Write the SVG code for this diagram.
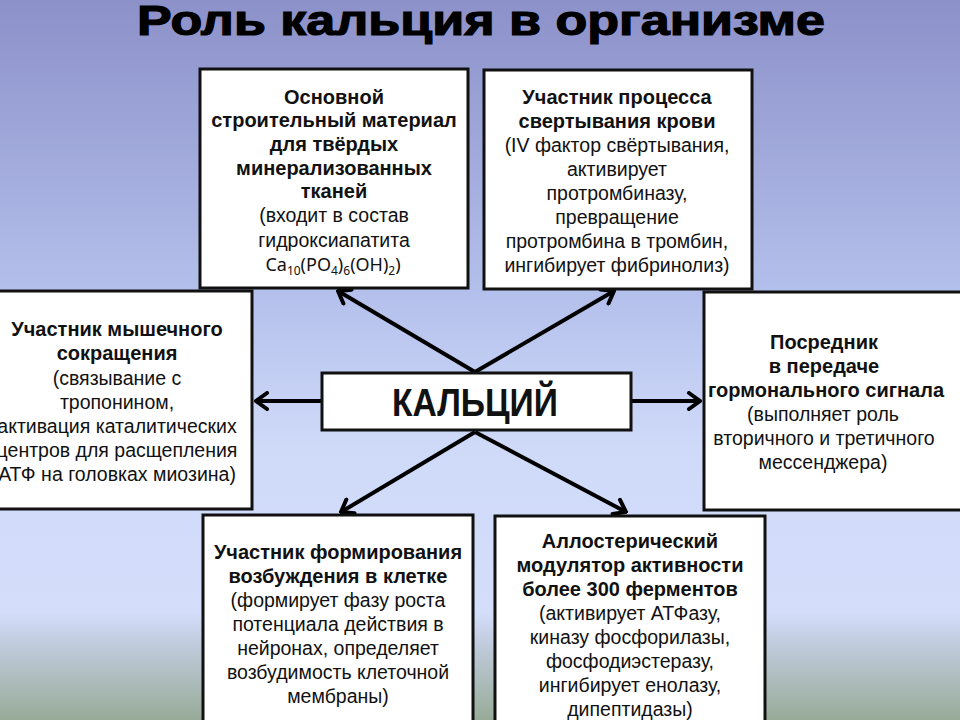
<svg xmlns="http://www.w3.org/2000/svg" width="960" height="720" viewBox="0 0 960 720">
<defs>
<linearGradient id="bg" x1="0" y1="0" x2="0" y2="1">
<stop offset="0" stop-color="#8c91c9"/>
<stop offset="0.4" stop-color="#b3bfeb"/>
<stop offset="0.62" stop-color="#cfdaf9"/>
<stop offset="0.85" stop-color="#d4defb"/>
<stop offset="0.89" stop-color="#c2cde0"/>
<stop offset="1" stop-color="#98ab98"/>
</linearGradient>
<marker id="ah" markerUnits="userSpaceOnUse" viewBox="-14 -10 16 20" refX="0" refY="0" markerWidth="16" markerHeight="20" orient="auto">
<path d="M-11,-8 L0,0 L-11,8" fill="none" stroke="#000" stroke-width="4" stroke-linecap="round" stroke-linejoin="miter"/>
</marker>
<style>
.box{fill:#fff;stroke:#111;stroke-width:3}
.t{font-family:"Liberation Sans",Arial,sans-serif;font-size:19.5px;fill:#111;text-anchor:middle}
.b{font-weight:bold;font-size:20px}
.c{stroke:#000;stroke-width:4;fill:none;marker-end:url(#ah)}
</style>
</defs>
<rect x="0" y="0" width="960" height="720" fill="url(#bg)"/>
<text x="481" y="35" font-family="'Liberation Sans',Arial,sans-serif" font-weight="bold" font-size="42" text-anchor="middle" textLength="688" lengthAdjust="spacingAndGlyphs" fill="#000" stroke="#000" stroke-width="1.2">Роль кальция в организме</text>

<g id="connectors">
<line class="c" x1="475" y1="372" x2="338" y2="291"/>
<line class="c" x1="475" y1="372" x2="614" y2="291"/>
<line class="c" x1="475" y1="432" x2="341" y2="512"/>
<line class="c" x1="475" y1="432" x2="626" y2="512"/>
<line class="c" x1="322" y1="401" x2="256" y2="401"/>
<line class="c" x1="631" y1="401" x2="700" y2="401"/>
</g>

<g id="center">
<rect class="box" x="322" y="373" width="309" height="57"/>
<text x="475" y="416" font-family="'Liberation Sans',Arial,sans-serif" font-weight="bold" font-size="38" text-anchor="middle" textLength="166" lengthAdjust="spacingAndGlyphs" fill="#111">КАЛЬЦИЙ</text>
</g>

<g id="nodeA">
<rect class="box" x="200" y="69" width="268" height="219"/>
<text class="t b" x="334" y="104">Основной</text>
<text class="t b" x="334" y="127">строительный материал</text>
<text class="t b" x="334" y="151">для твёрдых</text>
<text class="t b" x="334" y="175">минерализованных</text>
<text class="t b" x="334" y="198">тканей</text>
<text class="t" x="334" y="222">(входит в состав</text>
<text class="t" x="334" y="247">гидроксиапатита</text>
<text x="333" y="271" font-family="'Noto Sans','Open Sans',sans-serif" font-size="18" text-anchor="middle" fill="#111">Ca<tspan font-size="12" dy="4">10</tspan><tspan dy="-4">(PO</tspan><tspan font-size="12" dy="4">4</tspan><tspan dy="-4">)</tspan><tspan font-size="12" dy="4">6</tspan><tspan dy="-4">(OH)</tspan><tspan font-size="12" dy="4">2</tspan><tspan dy="-4">)</tspan></text>
</g>

<g id="nodeB">
<rect class="box" x="484" y="70" width="268" height="219"/>
<text class="t b" x="617" y="104">Участник процесса</text>
<text class="t b" x="617" y="128">свертывания крови</text>
<text class="t" x="617" y="152">(IV фактор свёртывания,</text>
<text class="t" x="617" y="176">активирует</text>
<text class="t" x="617" y="200">протромбиназу,</text>
<text class="t" x="617" y="224">превращение</text>
<text class="t" x="617" y="248">протромбина в тромбин,</text>
<text class="t" x="617" y="272">ингибирует фибринолиз)</text>
</g>

<g id="nodeC">
<rect class="box" x="-5" y="291" width="257" height="218"/>
<text class="t b" x="117" y="336">Участник мышечного</text>
<text class="t b" x="117" y="360">сокращения</text>
<text class="t" x="117" y="385">(связывание с</text>
<text class="t" x="117" y="409">тропонином,</text>
<text class="t" x="117" y="433">активация каталитических</text>
<text class="t" x="117" y="457">центров для расщепления</text>
<text class="t" x="117" y="481">АТФ на головках миозина)</text>
</g>

<g id="nodeD">
<rect class="box" x="704" y="292" width="262" height="218"/>
<text class="t b" x="824" y="349">Посредник</text>
<text class="t b" x="824" y="373">в передаче</text>
<text class="t b" x="826" y="397">гормонального сигнала</text>
<text class="t" x="823" y="421">(выполняет роль</text>
<text class="t" x="824" y="445">вторичного и третичного</text>
<text class="t" x="823" y="469">мессенджера)</text>
</g>

<g id="nodeE">
<rect class="box" x="203" y="515" width="270" height="215"/>
<text class="t b" x="338" y="559">Участник формирования</text>
<text class="t b" x="338" y="583">возбуждения в клетке</text>
<text class="t" x="338" y="607">(формирует фазу роста</text>
<text class="t" x="338" y="631">потенциала действия в</text>
<text class="t" x="338" y="655">нейронах, определяет</text>
<text class="t" x="338" y="679">возбудимость клеточной</text>
<text class="t" x="338" y="703">мембраны)</text>
</g>

<g id="nodeF">
<rect class="box" x="495" y="516" width="270" height="214"/>
<text class="t b" x="630" y="548">Аллостерический</text>
<text class="t b" x="630" y="572">модулятор активности</text>
<text class="t b" x="630" y="596">более 300 ферментов</text>
<text class="t" x="630" y="620">(активирует АТФазу,</text>
<text class="t" x="630" y="644">киназу фосфорилазы,</text>
<text class="t" x="630" y="668">фосфодиэстеразу,</text>
<text class="t" x="630" y="692">ингибирует енолазу,</text>
<text class="t" x="630" y="716">дипептидазы)</text>
</g>
</svg>
